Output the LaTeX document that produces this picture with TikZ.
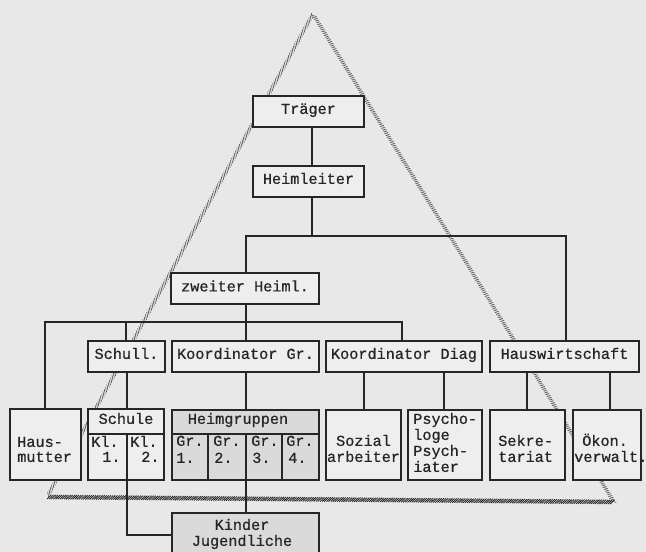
\documentclass[tikz,border=0pt]{standalone}
\usepackage{fontspec}
\newfontfamily\tw{Liberation Mono}[RawFeature={embolden=0.7}]
\usetikzlibrary{fit,decorations.pathreplacing}
\definecolor{bgc}{HTML}{E8E8E8}
\definecolor{boxc}{HTML}{EEEEEE}
\definecolor{shd}{HTML}{DADADA}
\definecolor{ink}{HTML}{262626}
\begin{document}
\begin{tikzpicture}[x=0.75pt,y=-0.75pt,
  box/.style={draw=ink, line width=0.9pt, fill=boxc, inner sep=0pt, rectangle},
  shbox/.style={box, fill=shd},
  txt/.style={font=\tw\fontsize{11.4}{14}\selectfont, text=ink, inner sep=0pt},
  lt/.style={txt, anchor=mid west},
  ct/.style={txt, anchor=mid},
  conn/.style={draw=ink, line width=0.8pt},
  hatch/.style={draw=black!70, line width=0.45pt, decorate,
    decoration={border, segment length=2pt, amplitude=4.2pt, angle=40, raise=-1.4pt}},
  hatchb/.style={draw=black!90, line width=0.55pt, decorate,
    decoration={border, segment length=1.6pt, amplitude=4.6pt, angle=45, raise=-1.6pt}},
]
\fill[bgc] (0,0) rectangle (646,552);
\useasboundingbox (0,0) rectangle (646,552);

% triangle
\coordinate (apex) at (313,14);
\coordinate (bl) at (47,497);
\coordinate (br) at (614,502);
\draw[hatch] (apex) -- (bl);
\draw[hatch] (apex) -- (br);
\draw[hatchb] (bl) -- (br);

% helper coordinates
\coordinate (x45) at (45,0);
\coordinate (x126) at (126,0);
\coordinate (x127) at (127,0);
\coordinate (x246) at (246,0);
\coordinate (x312) at (312,0);
\coordinate (x364) at (364,0);
\coordinate (x402) at (402,0);
\coordinate (x444) at (444,0);
\coordinate (x527) at (527,0);
\coordinate (x566) at (566,0);
\coordinate (x610) at (610,0);
\coordinate (y236) at (0,236);
\coordinate (y322) at (0,322);
\coordinate (y434) at (0,434);
\coordinate (y535) at (0,535);

% boxes
\node[box, fit={(253,96) (364,127)}] (trager) {};
\node[box, fit={(253,166) (364,197)}] (heimleiter) {};
\node[box, fit={(171,273) (319,304)}] (zweiter) {};
\node[box, fit={(88,341) (165,372)}] (schull) {};
\node[box, fit={(172,341) (319,372)}] (koordgr) {};
\node[box, fit={(326,341) (482,372)}] (koorddiag) {};
\node[box, fit={(490,341) (639,372)}] (hausw) {};
\node[box, fit={(10,409) (81,480)}] (hausmutter) {};
\node[box, fit={(88,409) (164,480)}] (schule) {};
\node[shbox, fit={(172,410) (319,480)}] (heimgr) {};
\node[box, fit={(326,410) (401,480)}] (sozial) {};
\node[box, fit={(408,410) (482,480)}] (psycho) {};
\node[box, fit={(490,410) (565,480)}] (sekret) {};
\node[box, fit={(573,410) (641,480)}] (oekon) {};
\node[shbox, fit={(172,513) (319,560)}] (kinder) {};

% internal dividers
\draw[conn] (schule.west |- y434) -- (schule.east |- y434);
\draw[conn] (x127 |- y434) -- (schule.south -| x127);
\draw[conn] (heimgr.west |- y434) -- (heimgr.east |- y434);
\draw[conn] (208,434) -- (208,480);
\draw[conn] (x246 |- y434) -- (heimgr.south -| x246);
\draw[conn] (282,434) -- (282,480);

% connectors
\draw[conn] (trager.south -| x312) -- (heimleiter.north -| x312);
\draw[conn] (heimleiter.south -| x312) -- (x312 |- y236);
\draw[conn] (zweiter.north -| x246) -- (x246 |- y236) -- (x566 |- y236) -- (hausw.north -| x566);
\draw[conn] (zweiter.south -| x246) -- (koordgr.north -| x246);
\draw[conn] (hausmutter.north -| x45) -- (x45 |- y322) -- (x402 |- y322) -- (koorddiag.north -| x402);
\draw[conn] (x126 |- y322) -- (schull.north -| x126);
\draw[conn] (schull.south -| x127) -- (schule.north -| x127);
\draw[conn] (schule.south -| x127) -- (x127 |- y535) -- (kinder.west |- y535);
\draw[conn] (koordgr.south -| x246) -- (heimgr.north -| x246);
\draw[conn] (heimgr.south -| x246) -- (kinder.north -| x246);
\draw[conn] (koorddiag.south -| x364) -- (sozial.north -| x364);
\draw[conn] (koorddiag.south -| x444) -- (psycho.north -| x444);
\draw[conn] (hausw.south -| x527) -- (sekret.north -| x527);
\draw[conn] (hausw.south -| x610) -- (oekon.north -| x610);

% texts
\node[ct] (ttrager) at (308.5,111) {Träger};
\node[ct] (theim) at (308.5,181) {Heimleiter};
\node[ct] (tzweiter) at (245,288.5) {zweiter Heiml.};
\node[ct] (tschull) at (126.5,356) {Schull.};
\node[ct] (tkgr) at (245.5,356) {Koordinator Gr.};
\node[ct] (tkdiag) at (404,356) {Koordinator Diag};
\node[ct] (thausw) at (564.5,356) {Hauswirtschaft};
\node[lt] (th1) at (17,444) {Haus-};
\node[lt] (th2) at (17,459) {mutter};
\node[ct] (tschule) at (126,421) {Schule};
\node[lt] (tk1a) at (91,444) {Kl.};
\node[lt] (tk1b) at (102,459) {1.};
\node[lt] (tk2a) at (130,444) {Kl.};
\node[lt] (tk2b) at (141,459) {2.};
\node[ct] (theimgr) at (238,421) {Heimgruppen};
\node[lt] (tg1a) at (176,443) {Gr.};
\node[lt] (tg1b) at (176,460) {1.};
\node[lt] (tg2a) at (213,443) {Gr.};
\node[lt] (tg2b) at (214,460) {2.};
\node[lt] (tg3a) at (251,443) {Gr.};
\node[lt] (tg3b) at (252,460) {3.};
\node[lt] (tg4a) at (286,443) {Gr.};
\node[lt] (tg4b) at (288,460) {4.};
\node[ct] (ts1) at (363.5,443) {Sozial};
\node[ct] (ts2) at (363.5,459) {arbeiter};
\node[lt] (tp1) at (413,421) {Psycho-};
\node[lt] (tp2) at (413,437) {loge};
\node[lt] (tp3) at (413,453) {Psych-};
\node[lt] (tp4) at (413,469) {iater};
\node[lt] (tsk1) at (498,443) {Sekre-};
\node[lt] (tsk2) at (498,459) {tariat};
\node[lt] (to1) at (582,443) {Ökon.};
\node[lt] (to2) at (574,459) {verwalt.};
\node[ct] (tki1) at (242,527) {Kinder};
\node[ct] (tki2) at (242,543) {Jugendliche};
\end{tikzpicture}
\end{document}
